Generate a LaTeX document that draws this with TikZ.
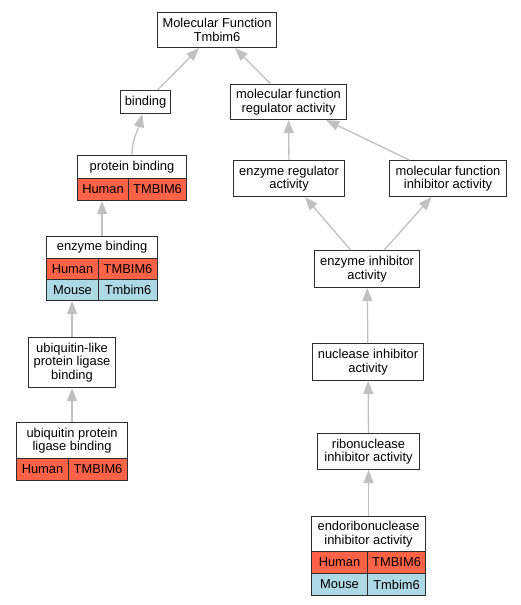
\documentclass[tikz,border=0pt]{standalone}
\usepackage{fontspec}
\setmainfont{Liberation Sans}
\usetikzlibrary{arrows.meta}
\definecolor{edgegray}{RGB}{192,192,192}
\definecolor{humanred}{RGB}{255,99,71}
\definecolor{mouseblue}{RGB}{173,216,230}
\definecolor{boxline}{RGB}{45,45,45}

\begin{document}
\begin{tikzpicture}[x=1pt,y=-1pt,
    font=\fontsize{12.9}{13.5}\selectfont,
    term/.style={draw=boxline,line width=1.1pt,fill=white,align=center,inner sep=0pt,anchor=north west},
    box/.style 2 args={minimum width=#1pt,minimum height=#2pt},
    human/.style={term,fill=humanred},
    mouse/.style={term,fill=mouseblue},
    isa/.style={draw=edgegray,line width=1.3pt,-{Triangle[length=13pt,width=10pt]}}]
      \useasboundingbox (0,0) rectangle (520,605);

      % terms
      \node[term,box={119}{35}] (mf) at (157,12) {Molecular Function\\Tmbim6};
      \node[term,box={50}{23}] (bind) at (120,90) {binding};
      \node[term,box={116}{35}] (mfra) at (230,84) {molecular function\\regulator activity};
      \node[term,box={111}{36}] (era) at (233,160) {enzyme regulator\\activity};
      \node[term,box={117}{36}] (mfia) at (389,160) {molecular function\\inhibitor activity};
      \node[term,box={105}{37}] (eia) at (314,250) {enzyme inhibitor\\activity};
      \node[term,box={111}{37}] (nuc) at (312,343) {nuclease inhibitor\\activity};
      \node[term,box={102}{36}] (ribo) at (317,433) {ribonuclease\\inhibitor activity};
      \node[term,box={87}{50}] (ubl) at (28,337) {ubiquitin-like\\protein ligase\\binding};

      % terms with genes
      \node[term,box={109}{23}] (pb) at (77,155) {protein binding};
      \node[human,box={51}{22}] (pbHum) at (77,178) {Human};
      \node[human,box={58}{22}] (pbHumGene) at (128,178) {TMBIM6};

      \node[term,box={111}{22}] (eb) at (46,236) {enzyme binding};
      \node[human,box={52}{21}] (ebHum) at (46,258) {Human};
      \node[human,box={59}{21}] (ebHumGene) at (98,258) {TMBIM6};
      \node[mouse,box={52}{21}] (ebMou) at (46,279) {Mouse};
      \node[mouse,box={59}{21}] (ebMouGene) at (98,279) {Tmbim6};

      \node[term,box={111}{36}] (upl) at (16,422) {ubiquitin protein\\ligase binding};
      \node[human,box={52}{22}] (uplHum) at (16,458) {Human};
      \node[human,box={59}{22}] (uplHumGene) at (68,458) {TMBIM6};

      \node[term,box={114}{35}] (endo) at (311,516) {endoribonuclease\\inhibitor activity};
      \node[human,box={56}{22}] (endoHum) at (311,551) {Human};
      \node[human,box={58}{22}] (endoHumGene) at (367,551) {TMBIM6};
      \node[mouse,box={56}{22}] (endoMou) at (311,573) {Mouse};
      \node[mouse,box={58}{22}] (endoMouGene) at (367,573) {Tmbim6};

      % is_a edges
      \foreach \a/\b in {bind/mf,mfra/mf,era/mfra,mfia/mfra,eia/era,eia/mfia,nuc/eia,ribo/nuc,endo/ribo,upl/ubl}
        \draw[isa] (\a) -- (\b);
      \draw[isa] (pb.north) to[out=90,in=-105] (bind);
      \draw[isa] (eb.north) -- (eb.north |- pbHum.south);
      \draw[isa] (ubl.north) -- (ubl.north |- ebMou.south);
    \end{tikzpicture}
\end{document}
